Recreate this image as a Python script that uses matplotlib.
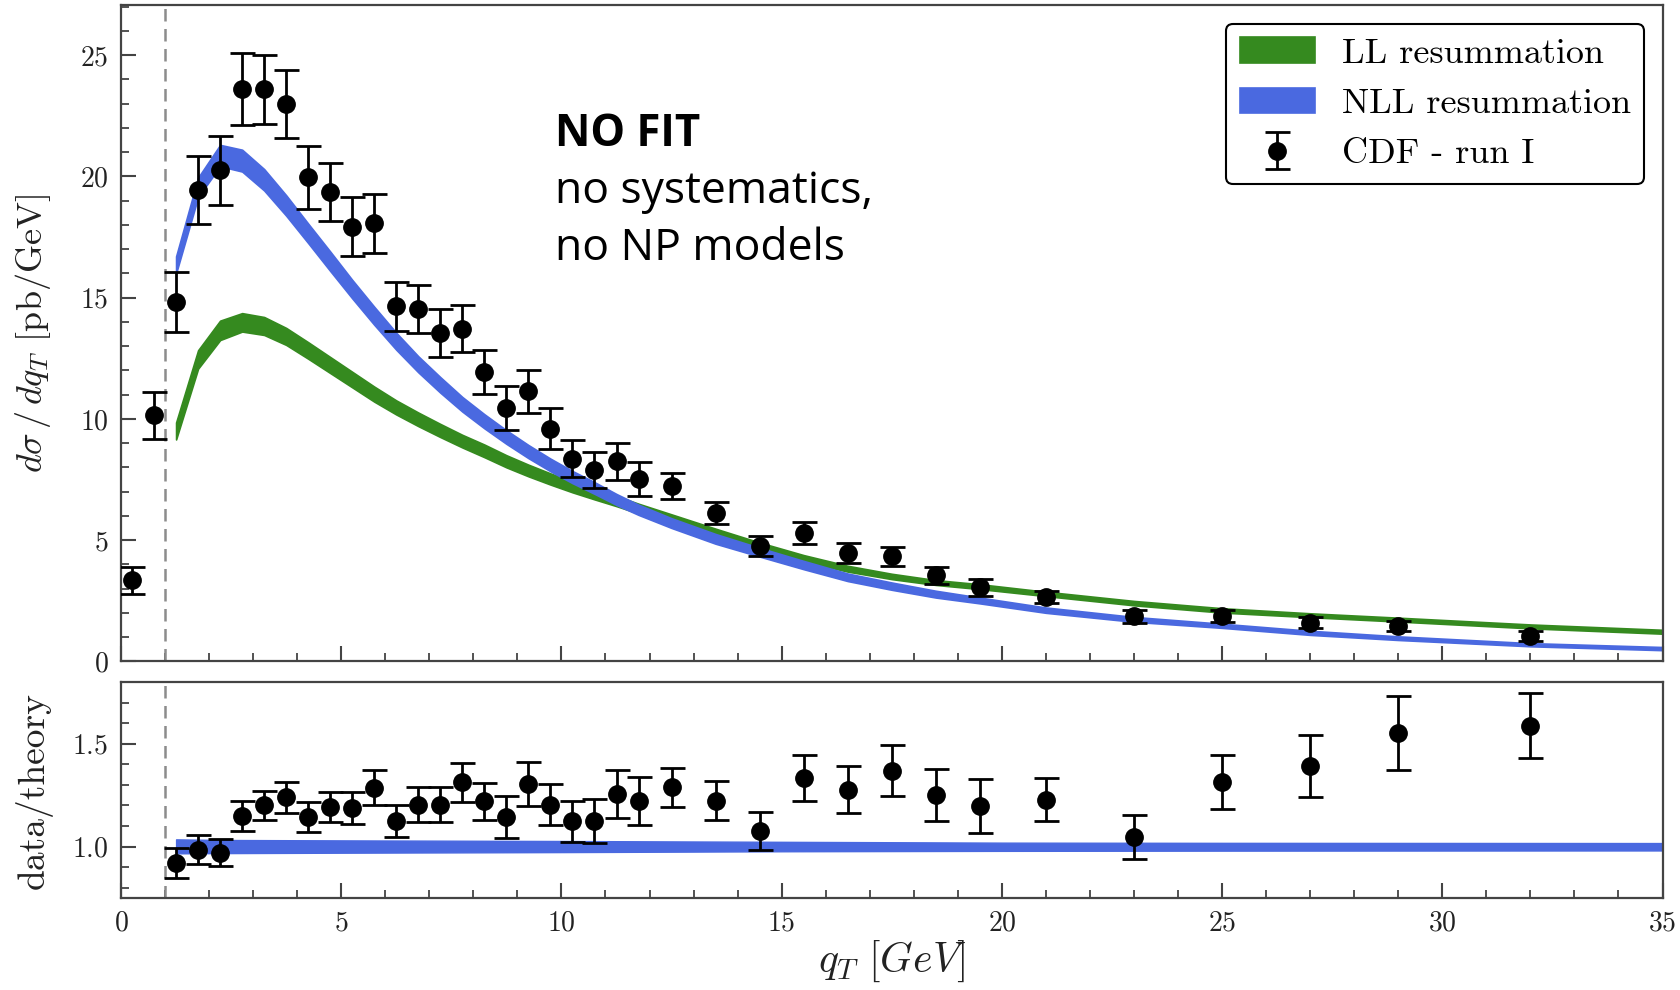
import matplotlib
matplotlib.use("Agg")
import matplotlib.pyplot as plt
import numpy as np
from matplotlib.ticker import MultipleLocator

plt.rcParams['font.family'] = 'serif'
plt.rcParams['font.serif'] = ['cmr10', 'DejaVu Serif']
plt.rcParams['mathtext.fontset'] = 'cm'
plt.rcParams['axes.formatter.use_mathtext'] = True

# CDF run I data (main panel)
qt_data = [0.25, 0.75, 1.25, 1.75, 2.25, 2.75, 3.25, 3.75, 4.25, 4.75, 5.25, 5.75,
           6.25, 6.75, 7.25, 7.75, 8.25, 8.75, 9.25, 9.75, 10.25, 10.75, 11.25, 11.75,
           12.5, 13.5, 14.5, 15.5, 16.5, 17.5, 18.5, 19.5, 21, 23, 25, 27, 29, 32]
xsec = [3.34, 10.14, 14.82, 19.43, 20.26, 23.6, 23.6, 22.98, 19.96, 19.35, 17.92, 18.06,
        14.64, 14.54, 13.55, 13.72, 11.92, 10.45, 11.14, 9.6, 8.36, 7.88, 8.25, 7.52,
        7.24, 6.12, 4.74, 5.29, 4.47, 4.33, 3.54, 3.05, 2.65, 1.85, 1.88, 1.6, 1.44, 1.05]
xsec_err = [0.56, 0.97, 1.22, 1.41, 1.42, 1.5, 1.42, 1.39, 1.31, 1.2, 1.21, 1.2,
            1.0, 0.98, 0.98, 0.98, 0.9, 0.89, 0.89, 0.83, 0.77, 0.74, 0.76, 0.71,
            0.53, 0.47, 0.41, 0.47, 0.41, 0.4, 0.35, 0.35, 0.26, 0.26, 0.25, 0.23, 0.21, 0.2]

# data / theory (ratio panel)
qt_ratio = qt_data[2:]
ratio = [0.92, 0.984, 0.971, 1.149, 1.20, 1.24, 1.144, 1.192, 1.188, 1.287, 1.123, 1.204,
         1.204, 1.312, 1.221, 1.144, 1.304, 1.204, 1.123, 1.123, 1.256, 1.221, 1.288, 1.224,
         1.075, 1.332, 1.277, 1.369, 1.252, 1.197, 1.228, 1.048, 1.316, 1.393, 1.553, 1.588]
ratio_err = [0.072, 0.07, 0.066, 0.073, 0.07, 0.075, 0.074, 0.072, 0.078, 0.087, 0.078, 0.084,
             0.087, 0.095, 0.09, 0.1, 0.107, 0.1, 0.1, 0.107, 0.118, 0.118, 0.095, 0.095,
             0.094, 0.112, 0.114, 0.125, 0.127, 0.133, 0.106, 0.107, 0.131, 0.15, 0.18, 0.157]

# theory bands
qt_th = [1.25, 1.75, 2.25, 2.75, 3.25, 3.75, 4.25, 4.75, 5.25, 5.75, 6.25, 6.75, 7.25, 7.75,
         8.25, 8.75, 9.25, 9.75, 10.25, 10.75, 11.25, 11.75, 12.5, 13.5, 14.5, 15.5, 16.5,
         17.5, 18.5, 19.5, 21, 23, 25, 27, 29, 32, 35]
nll_lo = [16.0, 19.15, 20.42, 20.2, 19.42, 18.38, 17.25, 16.1, 14.97, 13.88, 12.85, 11.92, 11.08,
          10.3, 9.61, 8.97, 8.38, 7.84, 7.35, 6.91, 6.45, 6.04, 5.5, 4.85, 4.32, 3.8, 3.31,
          2.95, 2.63, 2.39, 2.0, 1.63, 1.38, 1.09, 0.88, 0.62, 0.46]
nll_hi = [16.7, 19.95, 21.3, 21.1, 20.3, 19.22, 18.05, 16.9, 15.73, 14.62, 13.55, 12.58, 11.72,
          10.9, 10.19, 9.53, 8.92, 8.36, 7.85, 7.39, 6.9, 6.46, 5.9, 5.25, 4.68, 4.14, 3.62,
          3.25, 2.91, 2.63, 2.22, 1.83, 1.55, 1.26, 1.03, 0.75, 0.59]
ll_lo = [9.15, 12.07, 13.25, 13.6, 13.46, 13.05, 12.48, 11.89, 11.3, 10.71, 10.18, 9.7, 9.25,
         8.82, 8.42, 8.0, 7.63, 7.29, 6.97, 6.68, 6.4, 6.1, 5.7, 5.15, 4.62, 4.12, 3.7, 3.39,
         3.15, 2.98, 2.69, 2.31, 2.01, 1.82, 1.64, 1.36, 1.14]
ll_hi = [9.85, 12.83, 14.05, 14.36, 14.2, 13.75, 13.16, 12.55, 11.94, 11.33, 10.76, 10.26, 9.79,
         9.34, 8.94, 8.5, 8.11, 7.75, 7.43, 7.12, 6.82, 6.5, 6.06, 5.47, 4.9, 4.38, 3.94, 3.61,
         3.35, 3.18, 2.87, 2.49, 2.19, 1.98, 1.8, 1.52, 1.3]
qt_rband = [1.25, 2.25, 5, 10, 15, 20, 25, 35]
rband_lo = [0.967, 0.968, 0.970, 0.973, 0.977, 0.979, 0.980, 0.981]
rband_hi = [1.035, 1.032, 1.030, 1.027, 1.023, 1.019, 1.018, 1.017]

green = '#358A1F'
blue = '#4A69E0'
frame = '#444444'

fig = plt.figure(figsize=(16.81, 9.90), dpi=100)
ax = fig.add_axes([0.072, 0.332, 0.917, 0.6625])
axr = fig.add_axes([0.072, 0.093, 0.917, 0.218])

ax.fill_between(qt_th, ll_lo, ll_hi, color=green, lw=1.2, label='LL resummation')
ax.fill_between(qt_th, nll_lo, nll_hi, color=blue, lw=1.2, label='NLL resummation')
ax.errorbar(qt_data, xsec, yerr=xsec_err, fmt='o', color='black', ms=12.5, capsize=9,
            elinewidth=2, capthick=2, label='CDF - run I', zorder=5)
ax.axvline(1.0, color='#8c8c8c', ls=(0, (5, 3)), lw=1.8)

axr.fill_between(qt_rband, rband_lo, rband_hi, color=blue, lw=1)
axr.errorbar(qt_ratio, ratio, yerr=ratio_err, fmt='o', color='black', ms=12.5, capsize=9,
             elinewidth=2, capthick=2, zorder=5)
axr.axvline(1.0, color='#8c8c8c', ls=(0, (5, 3)), lw=1.8)

ax.set_xlim(0, 35)
ax.set_ylim(0, 27.05)
axr.set_xlim(0, 35)
axr.set_ylim(0.75, 1.8)

for a in (ax, axr):
    a.xaxis.set_major_locator(MultipleLocator(5))
    a.xaxis.set_minor_locator(MultipleLocator(1))
    a.tick_params(which='both', direction='in', colors=frame, labelcolor='#222222',
                  labelsize=20, top=False, right=False)
    a.tick_params(which='major', length=11, width=1.5, pad=9)
    a.tick_params(which='minor', length=6, width=1.3)
    for s in a.spines.values():
        s.set_color(frame)
        s.set_linewidth(1.6)

ax.yaxis.set_major_locator(MultipleLocator(5))
ax.yaxis.set_minor_locator(MultipleLocator(1))
ax.tick_params(axis='x', labelbottom=False)
axr.yaxis.set_major_locator(MultipleLocator(0.5))
axr.yaxis.set_minor_locator(MultipleLocator(0.1))

ax.set_ylabel(r'$d\sigma\,/\,dq_T$ [pb/GeV]', fontsize=26, color='#222222')
ax.yaxis.set_label_coords(-0.044, 0.5)
axr.set_ylabel('data/theory', fontsize=27, color='#222222')
axr.yaxis.set_label_coords(-0.044, 0.5)
axr.set_xlabel(r'$q_T\ [GeV]$', fontsize=30, color='#222222')
axr.xaxis.set_label_coords(0.5, -0.19)

leg = ax.legend(loc='upper right', fontsize=26, frameon=True, fancybox=True,
                handlelength=2.08, handletextpad=0.75, borderpad=0.38, labelspacing=0.5,
                borderaxespad=0.5)
leg.get_frame().set_edgecolor('black')
leg.get_frame().set_linewidth(1.5)
leg.get_frame().set_alpha(1)

ax.text(9.86, 21.25, 'NO FIT', fontsize=31.5, fontweight='bold', family='Open Sans',
        va='baseline', ha='left')
ax.text(9.86, 18.9, 'no systematics,', fontsize=32, family='Open Sans',
        va='baseline', ha='left')
ax.text(9.86, 16.55, 'no NP models', fontsize=32, family='Open Sans',
        va='baseline', ha='left')

fig.savefig('out.png', dpi=100)
